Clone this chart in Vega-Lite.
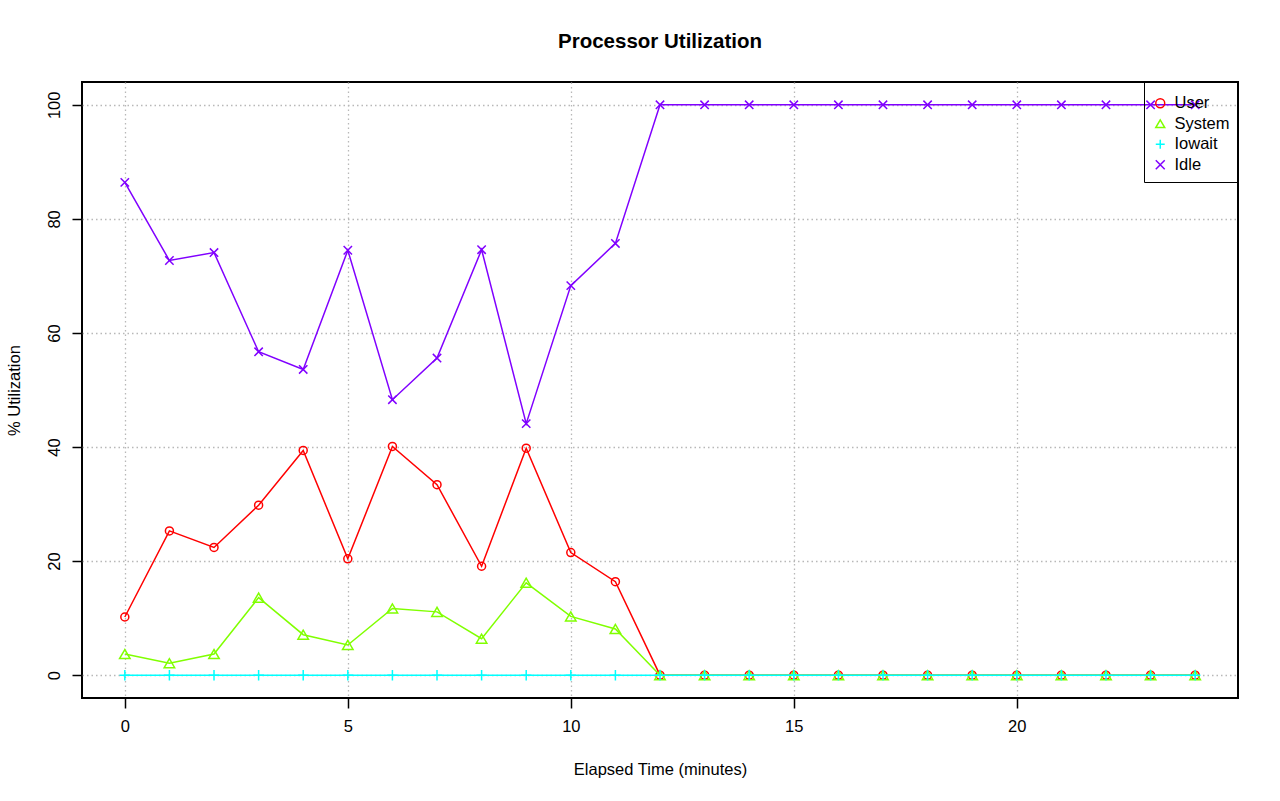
{
  "$schema": "https://vega.github.io/schema/vega-lite/v6.json",
  "width": 1156,
  "height": 616,
  "autosize": "none",
  "padding": {"left": 82, "top": 82, "right": 42, "bottom": 103},
  "background": "white",
  "title": {"text": "Processor Utilization", "fontSize": 20.5, "fontWeight": "bold", "font": "Liberation Sans", "offset": 29, "anchor": "middle", "color": "black"},
  "data": {"values": [
    {"t": 0, "User": 10.2, "System": 3.7, "Iowait": 0, "Idle": 86.4},
    {"t": 1, "User": 25.3, "System": 2.1, "Iowait": 0, "Idle": 72.7},
    {"t": 2, "User": 22.4, "System": 3.7, "Iowait": 0, "Idle": 74.1},
    {"t": 3, "User": 29.8, "System": 13.6, "Iowait": 0, "Idle": 56.7},
    {"t": 4, "User": 39.4, "System": 7.1, "Iowait": 0, "Idle": 53.6},
    {"t": 5, "User": 20.4, "System": 5.3, "Iowait": 0, "Idle": 74.5},
    {"t": 6, "User": 40.1, "System": 11.7, "Iowait": 0, "Idle": 48.3},
    {"t": 7, "User": 33.4, "System": 11.1, "Iowait": 0, "Idle": 55.6},
    {"t": 8, "User": 19.1, "System": 6.4, "Iowait": 0, "Idle": 74.6},
    {"t": 9, "User": 39.8, "System": 16.2, "Iowait": 0, "Idle": 44.1},
    {"t": 10, "User": 21.5, "System": 10.3, "Iowait": 0, "Idle": 68.3},
    {"t": 11, "User": 16.4, "System": 8.1, "Iowait": 0, "Idle": 75.7},
    {"t": 12, "User": 0, "System": 0, "Iowait": 0, "Idle": 100},
    {"t": 13, "User": 0, "System": 0, "Iowait": 0, "Idle": 100},
    {"t": 14, "User": 0, "System": 0, "Iowait": 0, "Idle": 100},
    {"t": 15, "User": 0, "System": 0, "Iowait": 0, "Idle": 100},
    {"t": 16, "User": 0, "System": 0, "Iowait": 0, "Idle": 100},
    {"t": 17, "User": 0, "System": 0, "Iowait": 0, "Idle": 100},
    {"t": 18, "User": 0, "System": 0, "Iowait": 0, "Idle": 100},
    {"t": 19, "User": 0, "System": 0, "Iowait": 0, "Idle": 100},
    {"t": 20, "User": 0, "System": 0, "Iowait": 0, "Idle": 100},
    {"t": 21, "User": 0, "System": 0, "Iowait": 0, "Idle": 100},
    {"t": 22, "User": 0, "System": 0, "Iowait": 0, "Idle": 100},
    {"t": 23, "User": 0, "System": 0, "Iowait": 0, "Idle": 100},
    {"t": 24, "User": 0, "System": 0, "Iowait": 0, "Idle": 100}
  ]},
  "transform": [{"fold": ["User", "System", "Iowait", "Idle"], "as": ["series", "value"]}],
  "encoding": {
    "x": {"field": "t", "type": "quantitative",
      "scale": {"domain": [-0.96, 24.96], "nice": false, "zero": false},
      "axis": {"values": [0, 5, 10, 15, 20], "title": "Elapsed Time (minutes)", "labelPadding": 10, "titlePadding": 27, "labelFlush": false}},
    "y": {"field": "value", "type": "quantitative",
      "scale": {"domain": [-4, 104], "nice": false, "zero": false},
      "axis": {"values": [0, 20, 40, 60, 80, 100], "title": "% Utilization", "labelAngle": -90, "labelAlign": "center", "labelBaseline": "bottom", "labelPadding": 10, "titlePadding": 24, "labelFlush": false}},
    "color": {"field": "series", "type": "nominal",
      "scale": {"domain": ["User", "System", "Iowait", "Idle"], "range": ["#FF0000", "#80FF00", "#00FFFF", "#8000FF"]},
      "legend": {"title": " ", "titleFontSize": 1, "titlePadding": 4, "orient": "none", "legendX": 1062, "legendY": 0, "strokeColor": "black", "fillColor": null, "padding": 8, "labelFontSize": 16.5, "symbolSize": 80, "symbolStrokeWidth": 1.5, "rowPadding": 3.5, "labelOffset": 6, "cornerRadius": 0, "labelColor": "black"}}
  },
  "layer": [
    {"transform": [{"filter": "datum.series === 'User'"}], "mark": {"type": "line", "strokeWidth": 1.5}},
    {"transform": [{"filter": "datum.series === 'User'"}], "mark": {"type": "point", "filled": false, "strokeWidth": 1.5, "size": 64, "opacity": 1},
      "encoding": {"shape": {"field": "series", "type": "nominal", "scale": {"domain": ["User", "System", "Iowait", "Idle"], "range": ["circle", "triangle-up", "M-1,0L1,0M0,-1L0,1", "M-1,-1L1,1M-1,1L1,-1"]}}}},
    {"transform": [{"filter": "datum.series === 'System'"}], "mark": {"type": "line", "strokeWidth": 1.5}},
    {"transform": [{"filter": "datum.series === 'System'"}], "mark": {"type": "point", "filled": false, "strokeWidth": 1.5, "size": 110, "opacity": 1},
      "encoding": {"shape": {"field": "series", "type": "nominal"}}},
    {"transform": [{"filter": "datum.series === 'Iowait'"}], "mark": {"type": "line", "strokeWidth": 1.5}},
    {"transform": [{"filter": "datum.series === 'Iowait'"}], "mark": {"type": "point", "filled": false, "strokeWidth": 1.5, "size": 110, "opacity": 1},
      "encoding": {"shape": {"field": "series", "type": "nominal"}}},
    {"transform": [{"filter": "datum.series === 'Idle'"}], "mark": {"type": "line", "strokeWidth": 1.5}},
    {"transform": [{"filter": "datum.series === 'Idle'"}], "mark": {"type": "point", "filled": false, "strokeWidth": 1.5, "size": 70, "opacity": 1},
      "encoding": {"shape": {"field": "series", "type": "nominal"}}}
  ],
  "config": {
    "font": "Liberation Sans",
    "view": {"stroke": "black", "strokeWidth": 2},
    "axis": {"domain": false, "grid": true, "gridColor": "#B8B8B8", "gridDash": [1.5, 3], "gridWidth": 1.3, "tickColor": "black", "tickSize": 10, "tickWidth": 1.5, "labelFontSize": 16.5, "labelColor": "black", "titleFontSize": 16.5, "titleFontWeight": "normal", "titleColor": "black", "labelFont": "Liberation Sans", "titleFont": "Liberation Sans"}
  }
}
